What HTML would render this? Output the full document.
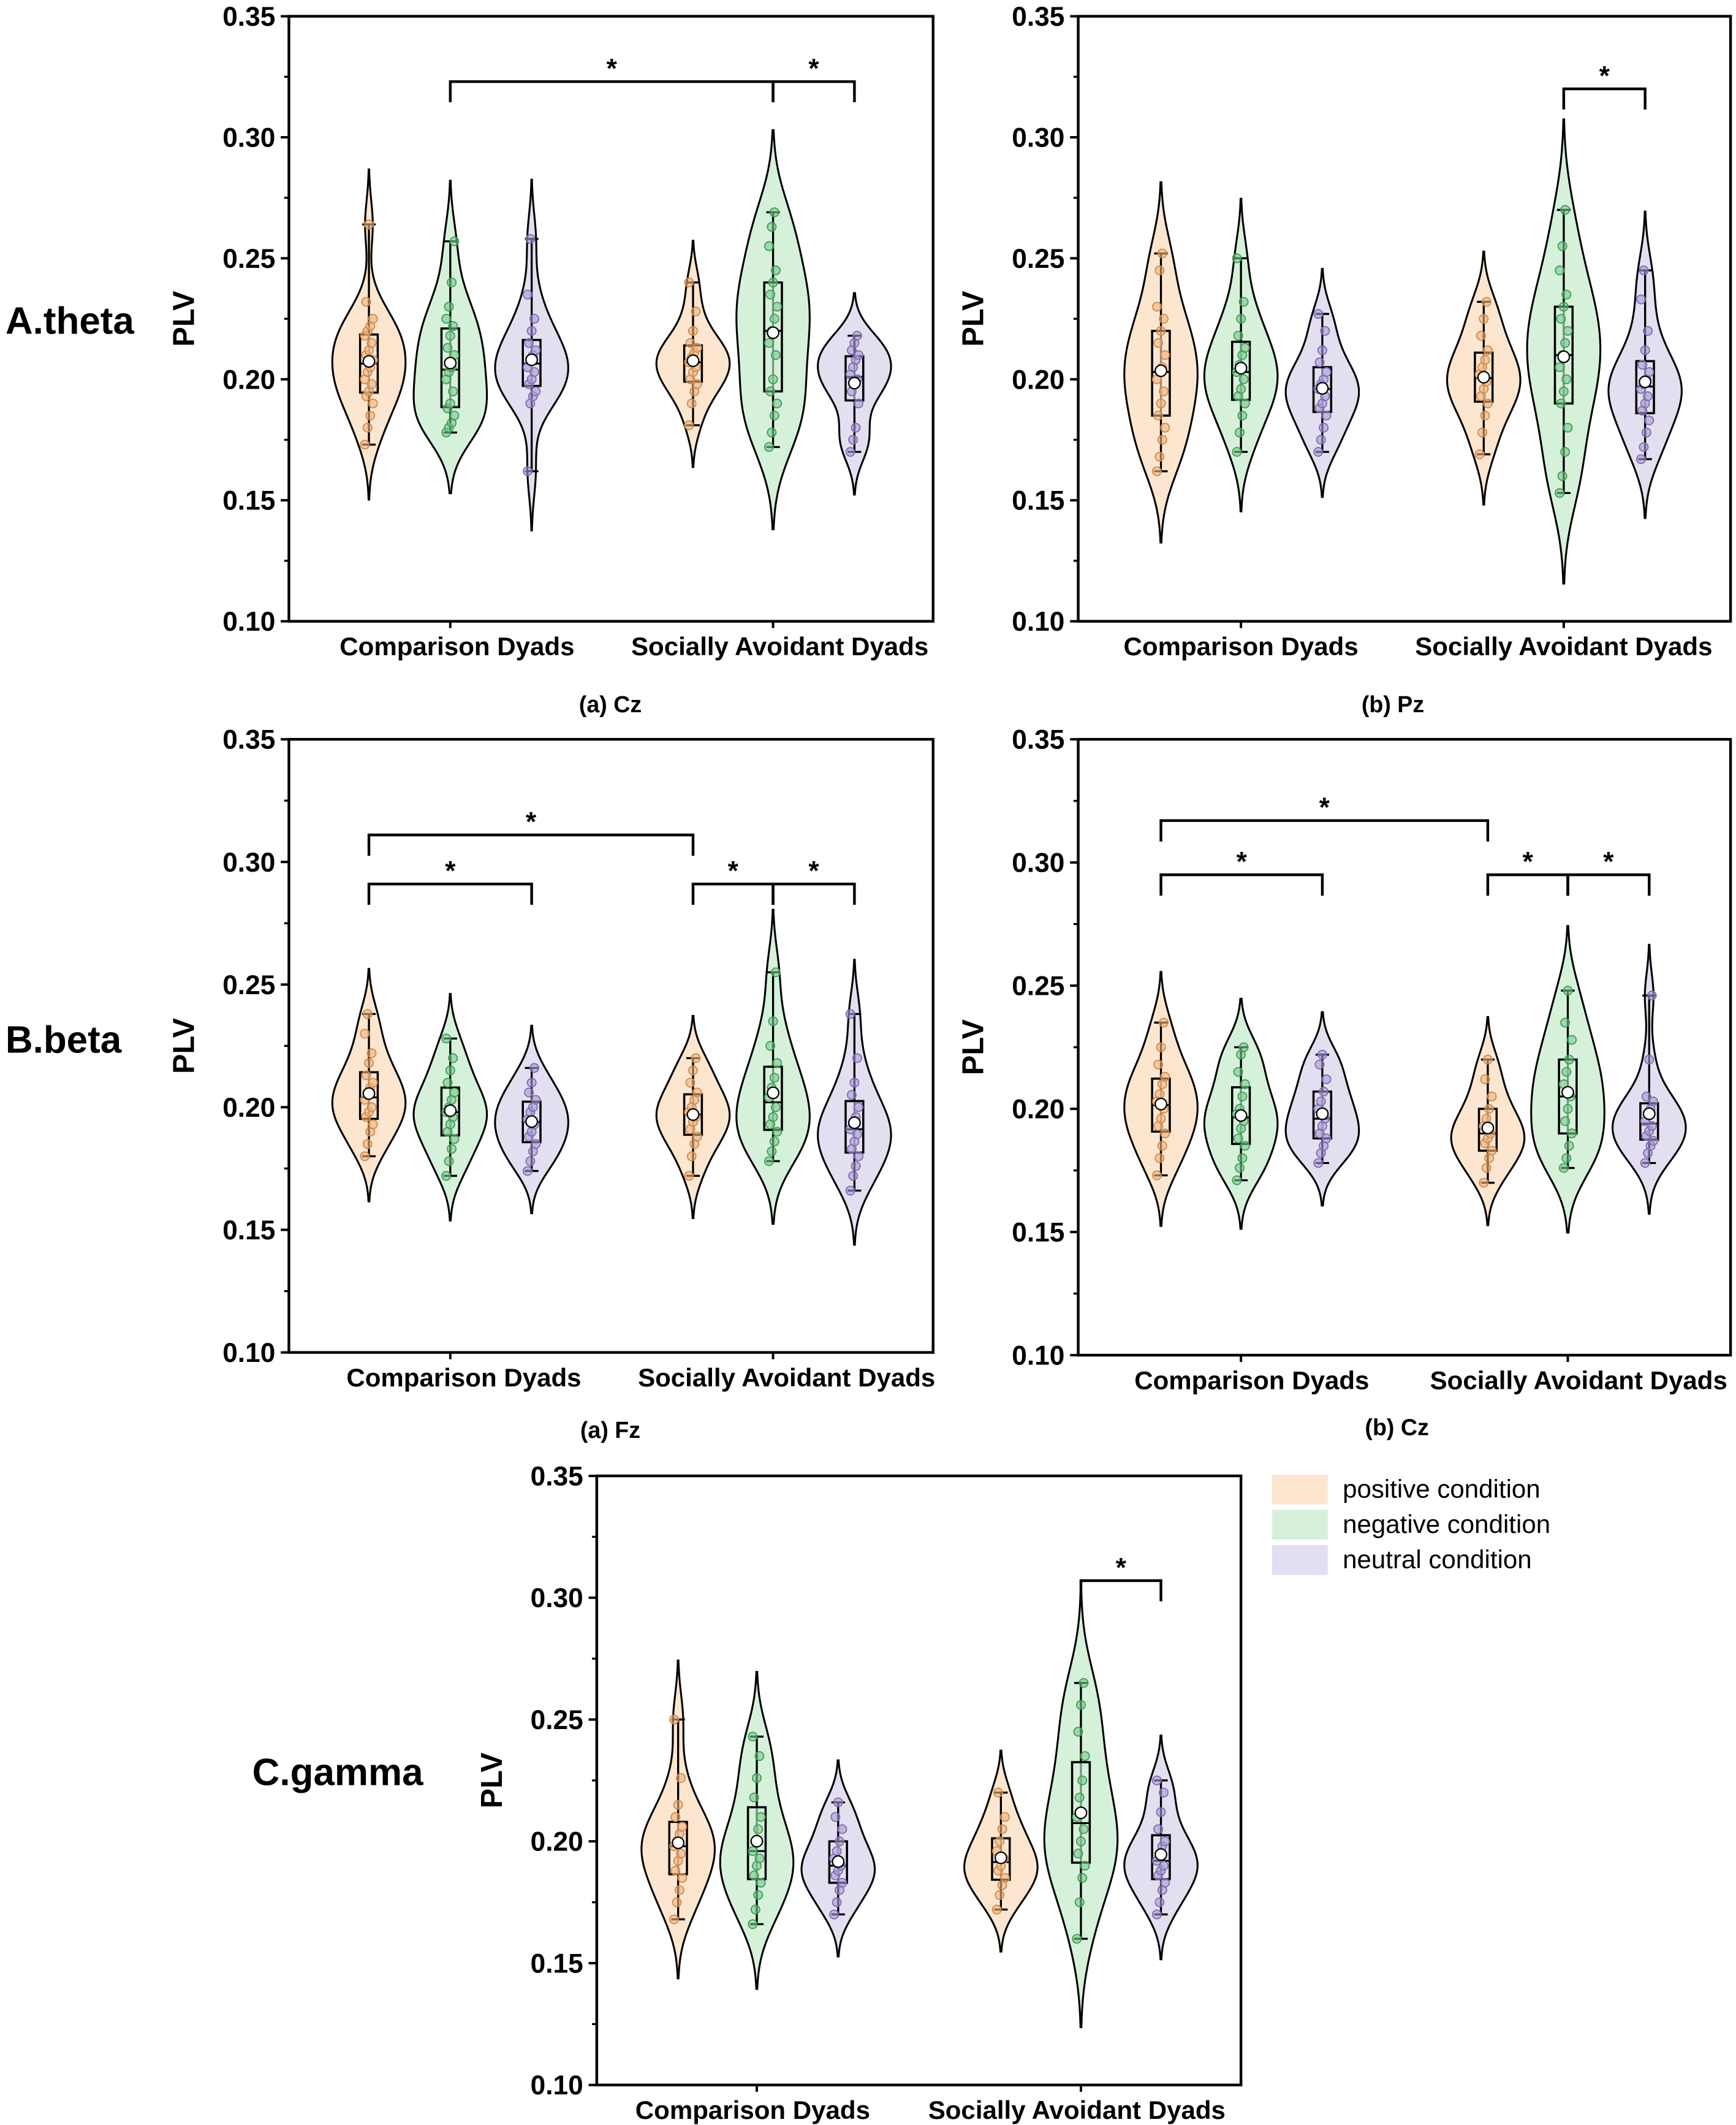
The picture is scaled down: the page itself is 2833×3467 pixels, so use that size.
<!DOCTYPE html>
<html><head><meta charset="utf-8">
<style>
html,body{margin:0;padding:0;background:#fff;}
svg{display:block;}
text{font-family:"Liberation Sans",sans-serif;}
</style></head>
<body>
<svg id="fig" xmlns="http://www.w3.org/2000/svg" width="2833" height="3467" viewBox="0 0 1280 1566.5">
<rect x="0" y="0" width="1280" height="1566.5" fill="#fff"/>
<g id="root"></g>
</svg>
<script>
// ---------- data (PLV values estimated from the figure) ----------
const conditions = ["positive", "negative", "neutral"];
const groups = ["Comparison Dyads", "Socially Avoidant Dyads"];
const yTicks = [0.10, 0.15, 0.20, 0.25, 0.30, 0.35];
const yTickLabels = ["0.10", "0.15", "0.20", "0.25", "0.30", "0.35"];

const thetaCz = [
 [0.173,0.18,0.185,0.19,0.193,0.195,0.198,0.2,0.203,0.205,0.208,0.21,0.212,0.215,0.218,0.22,0.222,0.225,0.232,0.264],
 [0.178,0.18,0.182,0.185,0.188,0.19,0.195,0.2,0.203,0.205,0.21,0.213,0.218,0.222,0.225,0.23,0.24,0.257],
 [0.162,0.19,0.193,0.195,0.198,0.2,0.203,0.205,0.208,0.21,0.212,0.215,0.22,0.225,0.235,0.258],
 [0.181,0.19,0.195,0.198,0.2,0.203,0.205,0.207,0.209,0.211,0.213,0.215,0.22,0.228,0.24],
 [0.172,0.178,0.185,0.19,0.195,0.2,0.21,0.215,0.22,0.225,0.23,0.235,0.24,0.245,0.255,0.263,0.269],
 [0.17,0.175,0.18,0.19,0.195,0.198,0.2,0.202,0.205,0.208,0.21,0.212,0.215,0.218]
];
const thetaPz = [
 [0.162,0.168,0.175,0.18,0.185,0.19,0.195,0.2,0.203,0.205,0.21,0.215,0.22,0.225,0.23,0.245,0.252],
 [0.17,0.178,0.185,0.19,0.193,0.196,0.2,0.203,0.206,0.21,0.213,0.218,0.225,0.232,0.25],
 [0.17,0.175,0.18,0.185,0.188,0.19,0.193,0.196,0.198,0.2,0.203,0.207,0.212,0.22,0.227],
 [0.169,0.178,0.185,0.19,0.193,0.196,0.199,0.202,0.205,0.208,0.212,0.218,0.225,0.232],
 [0.153,0.16,0.17,0.18,0.19,0.195,0.2,0.205,0.21,0.215,0.22,0.225,0.23,0.235,0.245,0.255,0.27],
 [0.167,0.172,0.178,0.183,0.187,0.19,0.193,0.196,0.198,0.2,0.203,0.206,0.212,0.22,0.233,0.245]
];
const betaFz = [
 [0.18,0.185,0.19,0.193,0.196,0.198,0.2,0.203,0.205,0.208,0.21,0.213,0.218,0.222,0.23,0.238],
 [0.172,0.178,0.183,0.187,0.19,0.193,0.196,0.198,0.2,0.203,0.206,0.21,0.215,0.22,0.228],
 [0.174,0.178,0.182,0.185,0.188,0.19,0.193,0.195,0.198,0.2,0.203,0.206,0.21,0.216],
 [0.172,0.18,0.185,0.188,0.191,0.194,0.196,0.198,0.2,0.203,0.206,0.21,0.215,0.22],
 [0.178,0.182,0.186,0.19,0.193,0.196,0.2,0.204,0.208,0.212,0.218,0.225,0.235,0.255],
 [0.166,0.172,0.176,0.18,0.183,0.186,0.189,0.191,0.193,0.196,0.2,0.205,0.21,0.22,0.238]
];
const betaCz = [
 [0.173,0.18,0.185,0.19,0.193,0.196,0.2,0.203,0.206,0.21,0.213,0.218,0.225,0.235],
 [0.171,0.176,0.18,0.185,0.188,0.192,0.195,0.198,0.2,0.205,0.21,0.215,0.222,0.225],
 [0.178,0.182,0.185,0.188,0.19,0.193,0.196,0.2,0.203,0.207,0.212,0.218,0.222],
 [0.17,0.176,0.18,0.183,0.186,0.188,0.19,0.193,0.196,0.2,0.205,0.212,0.22],
 [0.176,0.18,0.185,0.19,0.195,0.2,0.205,0.21,0.215,0.22,0.228,0.235,0.248],
 [0.178,0.182,0.185,0.187,0.189,0.191,0.193,0.195,0.198,0.2,0.203,0.205,0.22,0.246]
];
const gammaAll = [
 [0.168,0.175,0.18,0.185,0.188,0.192,0.195,0.198,0.2,0.203,0.206,0.21,0.215,0.226,0.25],
 [0.166,0.172,0.178,0.183,0.186,0.19,0.193,0.196,0.2,0.205,0.21,0.218,0.226,0.235,0.243],
 [0.17,0.175,0.18,0.183,0.186,0.188,0.19,0.193,0.196,0.2,0.205,0.21,0.216],
 [0.172,0.178,0.182,0.185,0.188,0.19,0.193,0.196,0.2,0.205,0.21,0.22],
 [0.16,0.175,0.185,0.19,0.195,0.2,0.205,0.21,0.218,0.225,0.235,0.245,0.256,0.265],
 [0.17,0.175,0.18,0.183,0.186,0.188,0.19,0.192,0.195,0.198,0.2,0.205,0.212,0.22,0.225]
];
// brackets: [fromIndex, toIndex, level]
const thetaCzBrackets = [[1,4,0.323],[4,5,0.323]];
const thetaPzBrackets = [[4,5,0.320]];
const betaFzBrackets = [[0,3,0.311],[0,2,0.291],[3,4,0.291],[4,5,0.291]];
const betaCzBrackets = [[0,3,0.317],[0,2,0.295],[3,4,0.295],[4,5,0.295]];
const gammaBrackets = [[4,5,0.307]];

// ---------- drawing ----------
const NS = "http://www.w3.org/2000/svg";
const root = document.getElementById("root");
const fills = ["#fde6cf","#d6f1da","#e3dff0"];
const dots = ["#f2b27a","#77c98a","#a99ad6"];
const dotStroke = ["#c98a4e","#3f9a58","#7a6cae"];

function mk(tag, attrs, parent) {
  const e = document.createElementNS(NS, tag);
  for (const k in attrs) e.setAttribute(k, attrs[k]);
  (parent || root).appendChild(e);
  return e;
}
function quant(s, p) { const i = (s.length - 1) * p, lo = Math.floor(i), hi = Math.ceil(i); return s[lo] + (s[hi] - s[lo]) * (i - lo); }

function drawPanel(name, cfg, data, brackets) {
  const g = mk("g", {});
  
  
  const y = v => cfg.y1 - (v - 0.10) / 0.25 * (cfg.y1 - cfg.y0);
  const xs = cfg.xs;
  const box = mk("rect", {x: cfg.x0, y: cfg.y0, width: cfg.x1 - cfg.x0, height: cfg.y1 - cfg.y0, fill: "none", stroke: "#000", "stroke-width": 2}, g);
  
  
  yTicks.forEach((t, i) => {
    mk("line", {x1: cfg.x0 - 6, x2: cfg.x0, y1: y(t), y2: y(t), stroke: "#000", "stroke-width": 1.8}, g);
    if (i < yTicks.length - 1) mk("line", {x1: cfg.x0 - 3.5, x2: cfg.x0, y1: y(t + 0.025), y2: y(t + 0.025), stroke: "#000", "stroke-width": 1.5}, g);
    const tl = mk("text", {x: cfg.x0 - 10, y: y(t) + 7, "text-anchor": "end", "font-size": 20, "font-weight": "bold"}, g);
    tl.textContent = yTickLabels[i];
    
    
  });
  const yl = mk("text", {x: cfg.x0 - 70, y: (cfg.y0 + cfg.y1) / 2, "text-anchor": "middle", "font-size": 22, "font-weight": "bold", transform: `rotate(-90 ${cfg.x0 - 70} ${(cfg.y0 + cfg.y1) / 2})`}, g);
  yl.textContent = "PLV";
  
  
  [0, 1].forEach(k => {
    const cx = xs[k * 3 + 1];
    mk("line", {x1: cx, x2: cx, y1: cfg.y1, y2: cfg.y1 + 5, stroke: "#000", "stroke-width": 1.8}, g);
    const t = mk("text", {x: cx + cfg.lblOff, y: cfg.y1 + 25, "text-anchor": "middle", "font-size": 19, "font-weight": "bold"}, g);
    t.textContent = groups[k];
    
    
  });
  data.forEach((vals, i) => {
    const c = i % 3;
    const s = vals.slice().sort((a, b) => a - b);
    const n = s.length;
    const mean = s.reduce((a, b) => a + b, 0) / n;
    const sd = Math.sqrt(s.reduce((a, b) => a + (b - mean) ** 2, 0) / n);
    const bw = Math.max(0.0075, 1.06 * sd * Math.pow(n, -0.2) * 0.85);
    const lo = s[0] - 2.3 * bw, hi = s[n - 1] + 2.3 * bw;
    const steps = 80, dens = [];
    for (let k = 0; k <= steps; k++) {
      const v = lo + (hi - lo) * k / steps;
      let d = 0; s.forEach(p => d += Math.exp(-0.5 * ((v - p) / bw) ** 2));
      dens.push([v, d]);
    }
    const dmax = Math.max(...dens.map(d => d[1]));
    const W = 27;
    let path = "";
    dens.forEach((d, k) => { path += (k ? "L" : "M") + (xs[i] + d[1] / dmax * W).toFixed(2) + "," + y(d[0]).toFixed(2); });
    for (let k = dens.length - 1; k >= 0; k--) path += "L" + (xs[i] - dens[k][1] / dmax * W).toFixed(2) + "," + y(dens[k][0]).toFixed(2);
    path += "Z";
    const vg = mk("g", {}, g);
    
    
    mk("path", {d: path, fill: fills[c], stroke: "#000", "stroke-width": 1.4}, vg);
    const q1 = quant(s, 0.25), q3 = quant(s, 0.75), med = quant(s, 0.5);
    mk("line", {x1: xs[i], x2: xs[i], y1: y(s[0]), y2: y(s[n - 1]), stroke: "#000", "stroke-width": 1.5}, vg);
    mk("line", {x1: xs[i] - 5, x2: xs[i] + 5, y1: y(s[0]), y2: y(s[0]), stroke: "#000", "stroke-width": 1.5}, vg);
    mk("line", {x1: xs[i] - 5, x2: xs[i] + 5, y1: y(s[n - 1]), y2: y(s[n - 1]), stroke: "#000", "stroke-width": 1.5}, vg);
    mk("rect", {x: xs[i] - 6.5, y: y(q3), width: 13, height: y(q1) - y(q3), fill: fills[c], "fill-opacity": 0.6, stroke: "#000", "stroke-width": 1.6}, vg);
    mk("line", {x1: xs[i] - 6.5, x2: xs[i] + 6.5, y1: y(med), y2: y(med), stroke: "#000", "stroke-width": 1.4}, vg);
    s.forEach((v, k) => {
      const jx = ((k * 37) % 7 - 3) * 1.0;
      const d = mk("circle", {cx: xs[i] + jx, cy: y(v), r: 3.2, fill: dots[c], "fill-opacity": 0.6, stroke: dotStroke[c], "stroke-width": 0.8}, vg);
      
      
    });
    mk("circle", {cx: xs[i], cy: y(mean), r: 4.2, fill: "#fff", stroke: "#000", "stroke-width": 1}, vg);
  });
  brackets.forEach(b => {
    const xa = xs[b[0]], xb = xs[b[1]], yy = y(b[2]), yd = y(b[2] - 0.0085);
    const bg = mk("g", {}, g);
    
    
    mk("path", {d: `M${xa},${yd}L${xa},${yy}L${xb},${yy}L${xb},${yd}`, fill: "none", stroke: "#000", "stroke-width": 2}, bg);
    const st = mk("text", {x: (xa + xb) / 2, y: yy - 3, "text-anchor": "middle", "font-size": 20, "font-weight": "bold"}, bg);
    st.textContent = "*";
  });
}

drawPanel("panel-theta-cz", {x0: 213, x1: 688, y0: 12, y1: 458, xs: [272, 332, 392, 511, 570, 630], lblOff: 5}, thetaCz, thetaCzBrackets);
drawPanel("panel-theta-pz", {x0: 795, x1: 1276, y0: 12, y1: 458, xs: [856, 915, 975, 1094, 1153, 1213], lblOff: 0}, thetaPz, thetaPzBrackets);
drawPanel("panel-beta-fz", {x0: 213, x1: 688, y0: 545, y1: 997, xs: [272, 332, 392, 511, 570, 630], lblOff: 10}, betaFz, betaFzBrackets);
drawPanel("panel-beta-cz", {x0: 795, x1: 1276, y0: 545, y1: 999, xs: [856, 915, 975, 1097, 1156, 1216], lblOff: 8}, betaCz, betaCzBrackets);
drawPanel("panel-gamma", {x0: 440, x1: 915, y0: 1088, y1: 1537, xs: [500, 558, 618, 738, 797, 856], lblOff: -3}, gammaAll, gammaBrackets);

function label(txt, x, y, size, name, anchor) {
  const t = mk("text", {x: x, y: y, "font-size": size, "font-weight": "bold", "text-anchor": anchor || "start"});
  t.textContent = txt;
  
  
}
label("A.theta", 4, 246, 28, "row-label-theta");
label("B.beta", 4, 776, 28, "row-label-beta");
label("C.gamma", 312, 1316, 28, "row-label-gamma", "end");
label("(a) Cz", 450, 525, 17, "subtitle-a-cz", "middle");
label("(b) Pz", 1027, 525, 17, "subtitle-b-pz", "middle");
label("(a) Fz", 450, 1060, 17, "subtitle-a-fz", "middle");
label("(b) Cz", 1030, 1058, 17, "subtitle-b-cz", "middle");

const legendLabels = ["positive condition", "negative condition", "neutral condition"];
const lg = mk("g", {});


legendLabels.forEach((l, i) => {
  const e = mk("g", {}, lg);
  
  
  mk("rect", {x: 938, y: 1087 + i * 26, width: 41, height: 22, fill: fills[i]}, e);
  const t = mk("text", {x: 990, y: 1104 + i * 26, "font-size": 19}, e);
  t.textContent = l;
});
</script>
</body></html>
